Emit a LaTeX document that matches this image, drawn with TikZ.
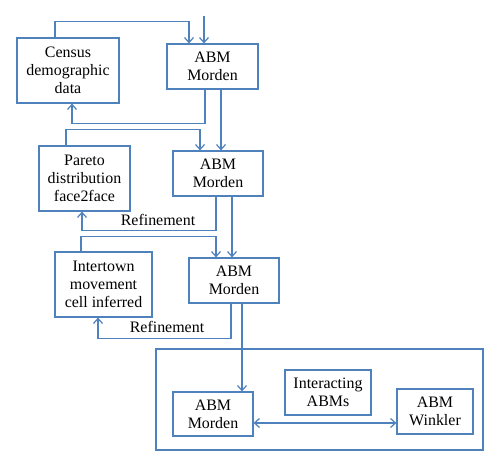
\documentclass[tikz,border=0pt]{standalone}
\usepackage{fontspec}
\setmainfont{Liberation Serif}
\usetikzlibrary{arrows.meta,calc}
\definecolor{lineblue}{HTML}{4F81BD}
\tikzset{
  box/.style={draw=lineblue, line width=1.2bp, align=center, inner sep=0pt,
    font=\fontsize{16}{18}\selectfont, text=black},
  arr/.style={draw=lineblue, line width=1.2bp, -{Straight Barb[length=5bp,width=9bp]}},
  darr/.style={draw=lineblue, line width=1.2bp, {Straight Barb[length=5bp,width=9bp]}-{Straight Barb[length=5bp,width=9bp]}},
  lbl/.style={font=\fontsize{16}{18}\selectfont, text=black, inner sep=0pt},
}
\begin{document}
\begin{tikzpicture}[x=1bp,y=-1bp]
\useasboundingbox[fill=white] (0,0) rectangle (500,468);
% boxes
\node[box, minimum width=102bp, minimum height=65bp] (cens) at (68,70.5) {Census\\demographic\\data};
\node[box, minimum width=91bp, minimum height=45bp] (abm1) at (212.5,66.5) {ABM\\Morden};
\node[box, minimum width=91bp, minimum height=65bp] (par) at (84.5,178.5) {Pareto\\distribution\\face2face};
\node[box, minimum width=90bp, minimum height=45bp] (abm2) at (218,173.5) {ABM\\Morden};
\node[box, minimum width=97bp, minimum height=65bp] (inter) at (103.5,284.5) {Intertown\\movement\\cell inferred};
\node[box, minimum width=90bp, minimum height=45bp] (abm3) at (234,280.5) {ABM\\Morden};
\node[box, minimum width=327bp, minimum height=101bp] (big) at (319.5,399.5) {};
\node[box, minimum width=80bp, minimum height=44bp] (abm4) at (213,414) {ABM\\Morden};
\node[box, minimum width=86bp, minimum height=45bp] (iab) at (328,392.5) {Interacting\\ABMs};
\node[box, minimum width=76bp, minimum height=45bp] (wink) at (435,411.5) {ABM\\Winkler};
% labels
\node[lbl] (ref1) at (158,220) {Refinement};
\node[lbl] (ref2) at (167,327) {Refinement};
% connectors
\coordinate (in) at (204,16);
\draw[arr] (in) -- (in |- abm1.north);
\draw[arr] ([xshift=-13bp]cens.north) -- ++(0,-16) -| ([xshift=-23.5bp]abm1.north);
\draw[arr] ([xshift=-7.5bp]abm1.south) -- ++(0,34) -| ([xshift=4bp]cens.south);
\draw[arr] ([xshift=8.5bp]abm1.south) -- ([xshift=8.5bp]abm1.south |- abm2.north);
\draw[arr] ([xshift=-18.5bp]par.north) -- ++(0,-16) -| ([xshift=-18bp]abm2.north);
\draw[arr] ([xshift=-2bp]abm2.south) -- ++(0,34) -| ([xshift=-2.5bp]par.south);
\draw[arr] ([xshift=14bp]abm2.south) -- ([xshift=14bp]abm2.south |- abm3.north);
\draw[arr] ([xshift=-22.5bp]inter.north) -- ++(0,-15) -| ([xshift=-18bp]abm3.north);
\draw[arr] ([xshift=-3bp]abm3.south) -- ++(0,35) -| ([xshift=-5.5bp]inter.south);
\draw[arr] ([xshift=8bp]abm3.south) -- ([xshift=8bp]abm3.south |- abm4.north);
\draw[darr] ([yshift=-9bp]abm4.east) -- ([yshift=-9bp]abm4.east -| wink.west);
\end{tikzpicture}
\end{document}
